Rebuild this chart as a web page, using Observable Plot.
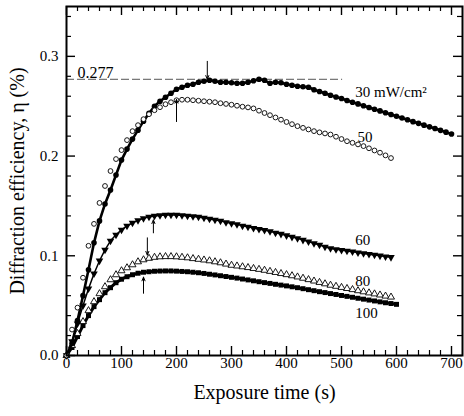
<!DOCTYPE html>
<html><head><meta charset="utf-8">
<script src="https://cdn.jsdelivr.net/npm/d3@7"></script>
<script src="https://cdn.jsdelivr.net/npm/@observablehq/plot@0.6"></script>
<style>html,body{margin:0;padding:0;background:#fff;} svg{display:block} svg text{font-family:'Liberation Serif','Times New Roman',serif;}</style>
</head><body><div id="chart"></div>
<script>
// Sampling times (s)
const times = [0,10,20,30,40,50,60,70,80,90,100,110,120,130,140,150,160,170,180,190,200,210,220,230,240,250,260,270,280,290,300,310,320,330,340,350,360,370,380,390,400,410,420,430,440,450,460,470,480,490,500,510,520,530,540,550,560,570,580,590,600,610,620,630,640,650,660,670,680,690,700];

// Diffraction efficiency (%) per intensity
const eta30 = [0,0.012,0.035,0.060,0.086,0.113,0.135,0.152,0.166,0.181,0.196,0.207,0.217,0.226,0.235,0.243,0.250,0.255,0.259,0.263,0.267,0.269,0.271,0.272,0.274,0.275,0.276,0.275,0.274,0.274,0.2735,0.273,0.273,0.274,0.2755,0.277,0.276,0.273,0.274,0.2735,0.272,0.271,0.270,0.2695,0.269,0.2665,0.2647,0.263,0.261,0.2593,0.2577,0.2557,0.254,0.2523,0.2505,0.2487,0.247,0.2453,0.2434,0.2417,0.2399,0.2382,0.2364,0.2345,0.2328,0.231,0.2293,0.2276,0.2258,0.224,0.2222];
const eta50 = [0,0.026,0.048,0.078,0.110,0.132,0.153,0.170,0.185,0.197,0.206,0.216,0.225,0.231,0.237,0.242,0.246,0.249,0.252,0.254,0.256,0.2565,0.2565,0.256,0.2555,0.255,0.2545,0.254,0.253,0.2523,0.2515,0.2505,0.2495,0.2488,0.2478,0.2455,0.2432,0.241,0.2387,0.2365,0.2342,0.232,0.230,0.2283,0.2267,0.225,0.2238,0.2227,0.2216,0.2194,0.2171,0.2149,0.2133,0.2117,0.210,0.2078,0.2056,0.2034,0.2007,0.198];
const eta60 = [0,0.014,0.032,0.050,0.067,0.082,0.095,0.106,0.115,0.121,0.126,0.130,0.133,0.1355,0.1375,0.139,0.140,0.1405,0.141,0.141,0.141,0.1405,0.140,0.1395,0.139,0.138,0.137,0.136,0.135,0.1335,0.1325,0.1315,0.130,0.129,0.1278,0.1267,0.1258,0.1245,0.123,0.1218,0.1203,0.1188,0.1175,0.1158,0.1142,0.1125,0.1108,0.109,0.1074,0.1065,0.1057,0.1049,0.1041,0.1032,0.1024,0.1016,0.1008,0.100,0.0992,0.0985];
const eta80 = [0,0.010,0.022,0.034,0.045,0.054,0.062,0.069,0.076,0.081,0.085,0.088,0.091,0.094,0.096,0.0975,0.0985,0.099,0.0992,0.0992,0.099,0.0985,0.098,0.0972,0.0965,0.0958,0.095,0.094,0.093,0.0917,0.0905,0.0898,0.089,0.0882,0.0873,0.0864,0.0855,0.0844,0.0833,0.0822,0.0811,0.080,0.0788,0.0775,0.0761,0.0747,0.0733,0.0719,0.0705,0.0694,0.0683,0.0672,0.0661,0.065,0.0639,0.0628,0.0618,0.0607,0.0596,0.0586];
const eta100 = [0,0.008,0.019,0.030,0.040,0.049,0.056,0.063,0.068,0.073,0.0765,0.079,0.081,0.0825,0.0835,0.084,0.0845,0.0847,0.0848,0.0848,0.0846,0.0843,0.084,0.0835,0.083,0.0823,0.0815,0.0808,0.080,0.0792,0.0784,0.0776,0.0767,0.0758,0.0749,0.074,0.0731,0.0723,0.0714,0.0706,0.0698,0.0689,0.068,0.067,0.066,0.065,0.064,0.0631,0.0621,0.0612,0.0602,0.0593,0.0584,0.0574,0.0565,0.0556,0.0547,0.0538,0.0529,0.0521,0.0513];

// Curve labels
const labelText = ["30 mW/cm\u00B2","50","60","80","100"];
const labelT = [525,529,525,525,525];
const labelEta = [0.259,0.2145,0.111,0.0695,0.038];

// Peak arrows
const arrowT = [256,200,158,147,140];
const arrowFrom = [0.295,0.2346,0.123,0.118,0.0624];
const arrowTo = [0.277,0.2568,0.136,0.1007,0.0786];

// Reference level
const refEta = 0.277;
const refLabel = "0.277";
const refEnd = 502;

// Axis ticks
const xMajor = [0,100,200,300,400,500,600,700];
const xMinor = [20,40,60,80,120,140,160,180,220,240,260,280,320,340,360,380,420,440,460,480,520,540,560,580,620,640,660,680];
const yMajor = [0,0.1,0.2,0.3];
const yMinor = [0.02,0.04,0.06,0.08,0.12,0.14,0.16,0.18,0.22,0.24,0.26,0.28,0.32,0.34];
const xDomain = [0,720];
const yDomain = [0,0.35];

const W = 464, H = 416, ML = 66, MR = 2, MT = 6, MB = 61;
const ux = (xDomain[1]-xDomain[0])/(W-ML-MR);
const uy = (yDomain[1]-yDomain[0])/(H-MT-MB);
const majL = 9, minL = 5;
const SERIF = "'Liberation Serif','Times New Roman',serif";

const rows = v => v.map((e,i)=>({t: times[i], eta: e}));
const r30 = rows(eta30), r50 = rows(eta50), r60 = rows(eta60), r80 = rows(eta80), r100 = rows(eta100);
const labels = labelText.map((s,i)=>({s, t: labelT[i], eta: labelEta[i]}));
const arrows = arrowT.map((t,i)=>({t, from: arrowFrom[i], to: arrowTo[i]}));

const triDown = {draw(ctx, size){ const y = -Math.sqrt(size/(Math.sqrt(3)*3)); ctx.moveTo(0,-y*2); ctx.lineTo(-Math.sqrt(3)*y, y); ctx.lineTo(Math.sqrt(3)*y, y); ctx.closePath(); }};

const chart = Plot.plot({
  width: W, height: H, marginLeft: ML, marginRight: MR, marginTop: MT, marginBottom: MB,
  x: {domain: xDomain},
  y: {domain: yDomain},
  style: "font-family: 'Liberation Serif','Times New Roman',serif; font-size: 15px; color: black; background: white;",
  marks: [
    Plot.ruleY([refEta], {x1: 0, x2: refEnd, stroke: "#555", strokeWidth: 1, strokeDasharray: "8,3"}),
    Plot.text([refLabel], {x: 20, y: refEta, text: d=>d, textAnchor: "start", lineAnchor: "bottom", dy: -1, fontSize: 16, fontFamily: SERIF}),
    // 100 mW/cm2 filled squares
    Plot.line(r100, {x: "t", y: "eta", stroke: "black", strokeWidth: 3}),
    Plot.dot(r100, {x: "t", y: "eta", symbol: "square", r: 2.8, fill: "black"}),
    // 80 open triangles
    Plot.dot(r80, {x: "t", y: "eta", symbol: "triangle", r: 2.6, fill: "white", stroke: "black", strokeWidth: 0.9}),
    // 60 filled down triangles
    Plot.line(r60, {x: "t", y: "eta", stroke: "black", strokeWidth: 1.5}),
    Plot.dot(r60, {x: "t", y: "eta", symbol: triDown, r: 2.8, fill: "black"}),
    // 30 filled circles
    Plot.line(r30, {x: "t", y: "eta", stroke: "black", strokeWidth: 2.6}),
    Plot.dot(r30, {x: "t", y: "eta", r: 2.8, fill: "black"}),
    // 50 open circles
    Plot.dot(r50, {x: "t", y: "eta", r: 2.4, fill: "white", stroke: "black", strokeWidth: 0.9}),
    // arrows
    Plot.arrow(arrows, {x: "t", y1: "from", y2: "to", headLength: 6, headAngle: 45, strokeWidth: 1, stroke: "black"}),
    // curve labels
    Plot.text(labels, {x: "t", y: "eta", text: "s", textAnchor: "start", lineAnchor: "bottom", fontSize: 15, fontFamily: SERIF}),
    // frame and ticks
    Plot.frame({stroke: "black", strokeWidth: 2}),
    Plot.ruleX(xMajor, {x: d=>d, y1: yDomain[0], y2: yDomain[0]+majL*uy, strokeWidth: 1.4}),
    Plot.ruleX(xMinor, {x: d=>d, y1: yDomain[0], y2: yDomain[0]+minL*uy, strokeWidth: 1.2}),
    Plot.ruleX(xMajor, {x: d=>d, y1: yDomain[1], y2: yDomain[1]-majL*uy, strokeWidth: 1.4}),
    Plot.ruleX(xMinor, {x: d=>d, y1: yDomain[1], y2: yDomain[1]-minL*uy, strokeWidth: 1.2}),
    Plot.ruleY(yMajor, {y: d=>d, x1: xDomain[0], x2: xDomain[0]+majL*ux, strokeWidth: 1.4}),
    Plot.ruleY(yMinor, {y: d=>d, x1: xDomain[0], x2: xDomain[0]+minL*ux, strokeWidth: 1.2}),
    Plot.ruleY(yMajor, {y: d=>d, x1: xDomain[1], x2: xDomain[1]-majL*ux, strokeWidth: 1.4}),
    Plot.ruleY(yMinor, {y: d=>d, x1: xDomain[1], x2: xDomain[1]-minL*ux, strokeWidth: 1.2}),
    Plot.axisX(xMajor, {anchor: "bottom", tickSize: 0, tickPadding: 2, tickFormat: d=>String(d), label: null, fontSize: 15, fontFamily: SERIF}),
    Plot.axisY(yMajor, {anchor: "left", tickSize: 0, tickPadding: 8, tickFormat: d3.format(".1f"), label: null, fontSize: 15, fontFamily: SERIF}),
    Plot.text(["Exposure time (s)"], {frameAnchor: "bottom", text: d=>d, textAnchor: "middle", dy: 43, fontSize: 20, fontFamily: SERIF}),
    Plot.text(["Diffraction efficiency, \u03B7 (%)"], {frameAnchor: "left", text: d=>d, textAnchor: "middle", dx: -49, dy: 0, rotate: -90, fontSize: 20, fontFamily: SERIF})
  ]
});
document.getElementById("chart").appendChild(chart);
</script>
</body></html>
